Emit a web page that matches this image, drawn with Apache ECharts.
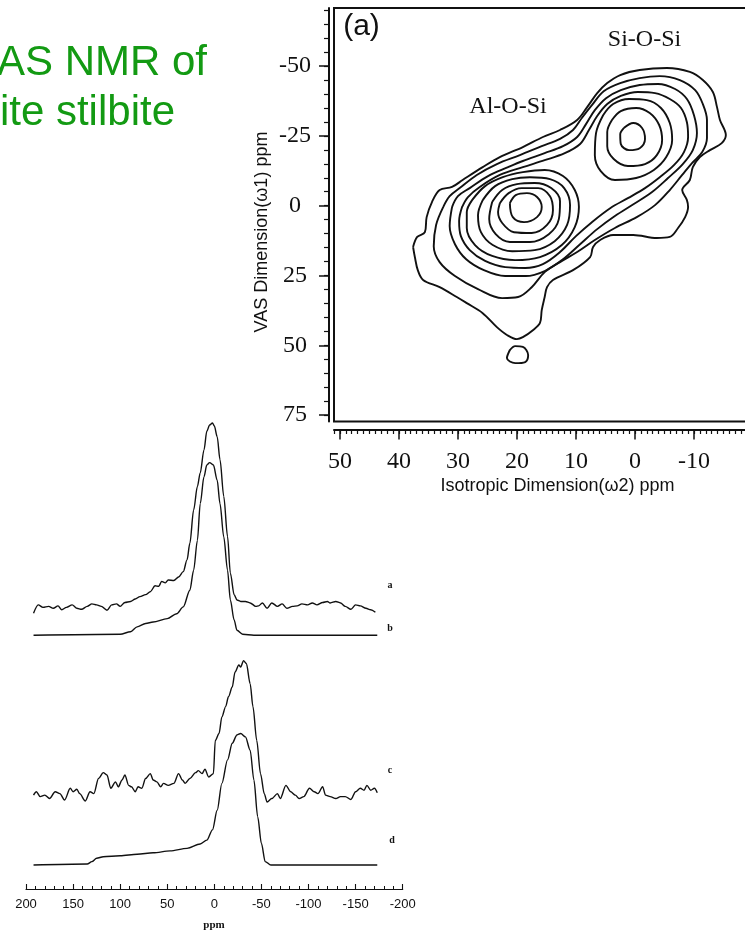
<!DOCTYPE html>
<html>
<head>
<meta charset="utf-8">
<script src="https://cdn.jsdelivr.net/npm/echarts@6/dist/echarts.min.js"></script>
<style>
  html, body { margin: 0; padding: 0; background: #ffffff; }
  #chart { width: 745px; height: 935px; }
</style>
</head>
<body>
<div id="chart"></div>
<script>
// ---------- 2D correlation map: contour lines (ppm, ppm) ----------
// x = isotropic dimension (omega2), y = VAS dimension (omega1)
const contourOuter = [[37.6,14.8],[36.9,11.2],[35.6,9.5],[35.3,4.1],[34.4,-1.3],[33.1,-5.6],[31.0,-6.7],[29.2,-9.2],[25.8,-13.8],[22.9,-17.4],[19.0,-21.0],[15.6,-24.6],[12.7,-27.1],[9.8,-30.7],[8.1,-35.3],[6.4,-40.3],[4.7,-43.9],[2.5,-46.8],[-0.8,-48.6],[-5.4,-49.3],[-9.3,-47.9],[-11.5,-45.0],[-13.2,-40.7],[-13.9,-35.3],[-14.4,-30.7],[-15.4,-25.3],[-14.7,-22.4],[-12.7,-19.9],[-11.0,-17.4],[-9.8,-13.8],[-9.3,-9.2],[-8.0,-5.6],[-8.8,-2.0],[-9.0,0.5],[-8.5,4.1],[-7.3,8.0],[-5.9,11.2],[-3.7,11.6],[0.3,10.5],[3.7,10.5],[5.9,12.3],[7.1,14.8],[7.6,18.4],[10.5,23.1],[13.9,26.6],[14.9,29.2],[15.3,32.7],[15.8,37.4],[16.1,42.0],[17.3,44.6],[19.0,47.1],[20.0,47.8],[21.7,46.3],[23.4,43.5],[25.8,38.5],[28.5,34.9],[30.2,32.7],[33.1,29.2],[35.9,26.6],[36.8,23.1],[37.3,18.4],[37.6,14.8]];
const contourIsland = [[21.2,51.7],[20.3,50.3],[19.0,50.6],[18.1,53.5],[18.6,56.0],[20.3,56.4],[21.7,54.6],[21.2,51.7]];
const contourLevel2 = [[32.5,0.5],[31.4,-3.4],[29.7,-6.3],[26.8,-11.0],[23.4,-14.9],[19.5,-18.1],[15.8,-21.3],[12.7,-23.9],[10.5,-27.1],[9.0,-31.4],[7.3,-36.0],[5.3,-41.0],[2.5,-43.9],[-0.8,-45.7],[-4.2,-46.4],[-7.6,-45.0],[-10.2,-41.4],[-11.5,-36.4],[-12.2,-30.7],[-12.2,-24.2],[-11.4,-19.2],[-9.7,-15.3],[-8.0,-11.0],[-5.9,-5.6],[-3.4,-0.2],[-0.3,4.1],[3.4,8.0],[6.8,12.3],[9.8,16.6],[12.7,20.2],[15.3,23.8],[17.5,29.2],[19.8,32.7],[22.5,33.1],[26.6,29.9],[30.5,25.2],[33.1,20.2],[34.1,14.5],[33.7,6.9],[32.5,0.5]];
const contourLevel3 = [[31.0,0.5],[30.0,-3.4],[28.0,-6.3],[24.9,-10.6],[21.5,-13.8],[19.0,-16.0],[15.3,-18.8],[12.2,-21.3],[9.8,-24.6],[8.3,-29.2],[6.8,-34.2],[4.9,-38.5],[2.4,-41.4],[-0.8,-43.2],[-3.9,-43.6],[-6.8,-41.8],[-8.8,-38.2],[-10.0,-32.4],[-10.5,-26.0],[-9.8,-19.9],[-8.1,-14.9],[-5.6,-9.9],[-2.9,-4.9],[0.2,-0.6],[3.4,3.7],[6.4,8.4],[9.3,13.8],[12.2,19.2],[15.3,23.4],[18.5,25.2],[22.0,25.2],[25.6,23.1],[28.6,19.2],[30.5,13.8],[31.4,7.3],[31.0,0.5]];
const contourLevel4 = [[29.3,0.5],[28.3,-3.1],[26.3,-6.7],[22.9,-11.0],[19.0,-13.8],[15.3,-16.3],[11.9,-18.8],[9.3,-22.1],[7.8,-27.1],[6.4,-32.1],[4.7,-36.4],[2.4,-39.3],[-0.5,-40.7],[-3.4,-40.3],[-5.9,-38.2],[-7.8,-35.0],[-8.8,-29.9],[-9.0,-24.6],[-8.3,-19.2],[-6.6,-14.5],[-4.2,-10.2],[-1.7,-6.3],[1.2,-2.7],[4.2,0.9],[7.3,5.9],[10.0,10.9],[12.7,16.6],[15.6,20.9],[18.6,22.3],[22.0,22.0],[25.4,19.8],[28.0,15.9],[29.5,10.9],[29.8,5.5],[29.3,0.5]];
// Al-O-Si peak, inner rings
const alRing5 = [[27.6,-2.0],[25.4,-7.0],[22.4,-10.2],[19.0,-12.0],[15.3,-12.8],[12.2,-10.6],[10.2,-5.6],[9.5,0.5],[10.2,7.7],[12.4,14.1],[16.1,18.4],[20.3,19.5],[24.2,18.0],[27.1,14.1],[28.5,8.0],[28.5,2.3],[27.6,-2.0]];
const alRing6 = [[25.8,-2.0],[23.7,-7.0],[20.8,-9.5],[17.8,-10.2],[14.4,-9.5],[12.0,-6.3],[11.0,-0.2],[11.5,6.9],[13.6,12.7],[17.0,15.9],[20.8,16.3],[24.1,14.1],[26.1,9.5],[26.6,3.4],[25.8,-2.0]];
const alRing7 = [[24.2,-1.3],[22.5,-5.6],[20.0,-7.7],[17.0,-8.1],[14.2,-6.3],[12.7,-1.6],[12.9,4.8],[14.6,10.2],[17.8,13.0],[21.2,13.0],[23.6,10.2],[24.7,4.8],[24.2,-1.3]];
const alRing8 = [[22.9,-0.9],[21.4,-4.5],[19.2,-6.3],[16.4,-6.3],[14.4,-3.4],[13.9,1.6],[14.9,6.9],[17.5,9.8],[20.5,9.5],[22.5,6.2],[23.2,2.3],[22.9,-0.9]];
const alRing9 = [[21.2,-0.9],[20.2,-3.8],[18.3,-4.5],[16.6,-3.1],[15.8,0.5],[16.6,4.1],[18.8,5.9],[20.7,4.1],[21.2,-0.9]];
// Si-O-Si peak, inner rings
const siRing5 = [[5.4,-32.4],[3.7,-36.4],[1.0,-38.2],[-2.0,-37.8],[-4.4,-35.0],[-5.9,-29.6],[-6.3,-23.5],[-5.3,-17.4],[-3.2,-12.8],[-0.2,-9.9],[3.4,-9.2],[5.8,-12.4],[6.8,-18.1],[6.6,-26.0],[5.4,-32.4]];
const siRing6 = [[3.9,-30.7],[2.4,-33.9],[-0.2,-35.0],[-2.5,-33.2],[-4.1,-28.9],[-4.6,-23.5],[-3.7,-18.1],[-1.7,-14.9],[1.2,-14.2],[3.6,-16.7],[4.7,-21.3],[4.7,-26.4],[3.9,-30.7]];
const siRing7 = [[1.9,-27.8],[0.3,-29.6],[-1.2,-27.8],[-1.7,-23.9],[-0.8,-20.6],[1.0,-19.9],[2.4,-22.1],[2.5,-25.6],[1.9,-27.8]];

const isoTickValues = [50, 40, 30, 20, 10, 0, -10, -20];
const isoLabelValues = [50, 40, 30, 20, 10, 0, -10];
const vasTickValues = [-50, -25, 0, 25, 50, 75];
const vasMinorValues = [-70,-65,-60,-55,-50,-45,-40,-35,-30,-25,-20,-15,-10,-5,0,5,10,15,20,25,30,35,40,45,50,55,60,65,70,75];

// ---------- 1D spectra (ppm vs. relative intensity) ----------
const ppmA = [192,187,182,176,171,166,162,157,151,146,141,135,130,125,120,114,109,104,100,95,89,84,79,73,68,63,59,56,52,49,43,38,33,29,26,22,18,15,11,8,5,2,0,-3,-6,-10,-14,-17,-21,-24,-28,-33,-38,-44,-47,-51,-56,-61,-67,-72,-77,-83,-88,-93,-99,-104,-109,-115,-120,-123,-129,-134,-139,-145,-150,-155,-161,-166,-171];
const intA = [-0.7,1.0,0.5,0.7,0.3,0.8,0,0.5,1.0,0.3,0.1,0.7,1.2,1.0,0.7,-0.1,1.0,1.2,0.7,1.5,1.7,2.2,2.7,3.1,3.7,4.9,4.8,5.8,5.5,6.1,6.0,6.7,7.8,10.2,13.6,20.4,25.2,28.0,32.7,36.5,37.8,38.2,37.6,35.4,30.7,23.2,15.0,7.5,3.1,2.0,1.7,1.7,1.4,0.7,0.8,1.4,0.3,1.4,0.7,1.2,0.3,0.7,0.8,1.2,1.0,1.4,1.0,1.5,1.7,1.4,1.7,1.4,0.7,0.1,1.0,0.8,0.3,0,-0.5];
const ppmB = [192,100,89,82,73,65,50,40,33,26,22,18,15,11,8,5,1,-3,-6,-10,-14,-17,-21,-24,-30,-42,-173];
const intB = [0,0.2,0.7,1.7,2.4,2.7,3.4,4.4,5.8,9.2,13.3,19.4,26.9,32.4,34.8,35.3,34.8,31.7,26.9,20.1,13.3,7.2,3.1,1.0,0.2,0,0];
const ppmC = [192,189,185,180,175,169,164,159,153,150,146,143,137,132,128,123,118,114,110,105,102,98,95,91,88,84,81,77,73,68,65,61,57,54,49,43,38,34,31,26,20,17,13,10,6,1,-1,-5,-8,-12,-15,-19,-22,-26,-28,-31,-34,-38,-41,-45,-49,-53,-56,-61,-67,-70,-76,-81,-86,-90,-95,-101,-106,-110,-115,-118,-123,-129,-134,-139,-145,-150,-155,-159,-162,-166,-170,-173];
const intC = [0,0.7,-0.3,0,-0.7,0.7,0.3,-1.0,1.4,0.7,1.2,0.3,-1.2,0.7,0.3,3.4,4.6,4.1,1.4,2.7,1.7,3.1,4.1,2.0,1.7,0.7,1.7,1.4,3.4,4.4,3.1,2.7,1.7,2.4,2.0,2.4,4.4,3.1,2.4,3.4,4.6,5.0,4.4,5.3,3.7,4.4,11.2,12.6,16.0,18.1,20.1,22.1,25.2,26.6,26.2,27.5,26.9,22.8,18.1,11.2,4.4,0.3,-1.4,-0.7,0.3,-0.7,2.0,0.7,0,-0.7,-0.3,1.4,0.7,0.3,1.7,0,-0.3,-0.7,-0.3,-0.3,-0.9,0.7,1.4,1.0,2.0,1.0,1.4,0.5];
const ppmD = [192,135,130,125,118,100,82,65,47,29,15,8,2,-3,-8,-14,-19,-24,-28,-33,-38,-42,-46,-50,-54,-60,-173];
const intD = [0,0.2,0.7,1.4,1.7,1.9,2.2,2.5,2.9,3.4,4.3,5.1,7.2,11.2,16.7,21.5,24.9,26.6,26.9,26.2,23.5,17.4,9.9,4.4,0.7,0,0];
// vertical stacking offsets of the four traces
const traceOffsets = { a: 57.1, b: 51.9, c: 19.2, d: 4.9 };
const ppmTickValues = [200, 150, 100, 50, 0, -50, -100, -150, -200];

const INK = '#111111';
const SERIF = '"Liberation Serif","Times New Roman",serif';
const SANS = '"Liberation Sans",Arial,Helvetica,sans-serif';

function contourSeries(points) {
  return {
    type: 'line', xAxisIndex: 0, yAxisIndex: 0, data: points,
    symbol: 'none', smooth: 0.35, silent: true, animation: false,
    lineStyle: { color: INK, width: 1.9 }, z: 3
  };
}
function traceSeries(ppm, inten, offset) {
  return {
    type: 'line', xAxisIndex: 2, yAxisIndex: 2,
    data: ppm.map((p, i) => [p, offset + inten[i]]),
    symbol: 'none', smooth: 0.3, smoothMonotone: 'x', silent: true, animation: false,
    lineStyle: { color: INK, width: 1.4 }
  };
}

const isoMinorValues = [];
for (let v = 51; v >= -20; v -= 1) isoMinorValues.push(v);
const ppmMinorValues = [];
for (let v = 200; v >= -200; v -= 10) ppmMinorValues.push(v);

const chart = echarts.init(document.getElementById('chart'), null, { renderer: 'canvas' });

chart.setOption({
  backgroundColor: '#ffffff',
  animation: false,
  grid: [
    { left: 334, top: 8, width: 419, height: 413.5, outerBoundsMode: 'none', containLabel: false,
      show: true, borderColor: INK, borderWidth: 2, backgroundColor: 'transparent' },
    { left: 26, top: 400, width: 376.7, height: 489, outerBoundsMode: 'none', containLabel: false }
  ],
  xAxis: [
    { type: 'value', gridIndex: 0, min: -20, max: 51, inverse: true, position: 'bottom', offset: 8,
      axisLine: { show: true, onZero: false, lineStyle: { color: INK, width: 2 } },
      axisTick: { show: true, inside: false, length: 10, customValues: isoTickValues, lineStyle: { color: INK, width: 1.5 } },
      axisLabel: { customValues: isoLabelValues, margin: 20, color: INK, fontFamily: SERIF, fontSize: 24 },
      splitLine: { show: false } },
    { type: 'value', gridIndex: 0, min: -20, max: 51, inverse: true, position: 'bottom', offset: 8,
      axisLine: { show: false, onZero: false },
      axisTick: { show: true, inside: false, length: 4.5, customValues: isoMinorValues, lineStyle: { color: INK, width: 1.2 } },
      axisLabel: { show: false }, splitLine: { show: false } },
    { type: 'value', gridIndex: 1, min: -200, max: 200, inverse: true, position: 'bottom',
      axisLine: { show: true, onZero: false, lineStyle: { color: INK, width: 1.2 } },
      axisTick: { show: true, inside: true, length: 5, customValues: ppmTickValues, lineStyle: { color: INK, width: 1.1 } },
      axisLabel: { customValues: ppmTickValues, margin: 9, color: INK, fontFamily: SANS, fontSize: 13 },
      splitLine: { show: false } },
    { type: 'value', gridIndex: 1, min: -200, max: 200, inverse: true, position: 'bottom',
      axisLine: { show: false, onZero: false },
      axisTick: { show: true, inside: true, length: 3, customValues: ppmMinorValues, lineStyle: { color: INK, width: 1 } },
      axisLabel: { show: false }, splitLine: { show: false } }
  ],
  yAxis: [
    { type: 'value', gridIndex: 0, min: -70.8, max: 77.3, inverse: true, position: 'left', offset: 5,
      axisLine: { show: true, onZero: false, lineStyle: { color: INK, width: 2 } },
      axisTick: { show: true, inside: false, length: 10, customValues: vasTickValues, lineStyle: { color: INK, width: 1.5 } },
      axisLabel: { customValues: vasTickValues, margin: 34, align: 'center', color: INK, fontFamily: SERIF, fontSize: 24 },
      splitLine: { show: false } },
    { type: 'value', gridIndex: 0, min: -70.8, max: 77.3, inverse: true, position: 'left', offset: 5,
      axisLine: { show: false, onZero: false },
      axisTick: { show: true, inside: false, length: 5, customValues: vasMinorValues, lineStyle: { color: INK, width: 1.2 } },
      axisLabel: { show: false }, splitLine: { show: false } },
    { type: 'value', gridIndex: 1, min: 0, max: 100, show: false }
  ],
  series: [
    contourSeries(contourOuter), contourSeries(contourIsland),
    contourSeries(contourLevel2), contourSeries(contourLevel3), contourSeries(contourLevel4),
    contourSeries(alRing5), contourSeries(alRing6), contourSeries(alRing7), contourSeries(alRing8), contourSeries(alRing9),
    contourSeries(siRing5), contourSeries(siRing6), contourSeries(siRing7),
    traceSeries(ppmA, intA, traceOffsets.a),
    traceSeries(ppmB, intB, traceOffsets.b),
    traceSeries(ppmC, intC, traceOffsets.c),
    traceSeries(ppmD, intD, traceOffsets.d)
  ],
  graphic: [
    { type: 'text', x: 207, y: 63.7, style: { text: 'AS NMR of', fill: '#139a13', font: '42px ' + SANS, align: 'right', verticalAlign: 'middle' } },
    { type: 'text', x: 175, y: 113.7, style: { text: 'ite stilbite', fill: '#139a13', font: '42px ' + SANS, align: 'right', verticalAlign: 'middle' } },
    { type: 'text', x: 361.5, y: 26.3, style: { text: '(a)', fill: INK, font: '30px ' + SANS, align: 'center', verticalAlign: 'middle' } },
    { type: 'text', x: 644.5, y: 40, style: { text: 'Si-O-Si', fill: INK, font: '24px ' + SERIF, align: 'center', verticalAlign: 'middle' } },
    { type: 'text', x: 508, y: 107, style: { text: 'Al-O-Si', fill: INK, font: '24px ' + SERIF, align: 'center', verticalAlign: 'middle' } },
    { type: 'text', x: 557.5, y: 486, style: { text: 'Isotropic Dimension(\u03c92) ppm', fill: INK, font: '18px ' + SANS, align: 'center', verticalAlign: 'middle' } },
    { type: 'text', x: 262, y: 232, rotation: Math.PI / 2, style: { text: 'VAS Dimension(\u03c91) ppm', fill: INK, font: '18px ' + SANS, align: 'center', verticalAlign: 'middle' } },
    { type: 'text', x: 390, y: 585, style: { text: 'a', fill: INK, font: 'bold 10px ' + SERIF, align: 'center', verticalAlign: 'middle' } },
    { type: 'text', x: 390, y: 628, style: { text: 'b', fill: INK, font: 'bold 10px ' + SERIF, align: 'center', verticalAlign: 'middle' } },
    { type: 'text', x: 390, y: 770, style: { text: 'c', fill: INK, font: 'bold 10px ' + SERIF, align: 'center', verticalAlign: 'middle' } },
    { type: 'text', x: 392, y: 840, style: { text: 'd', fill: INK, font: 'bold 10px ' + SERIF, align: 'center', verticalAlign: 'middle' } },
    { type: 'text', x: 214, y: 925, style: { text: 'ppm', fill: INK, font: 'bold 11px ' + SERIF, align: 'center', verticalAlign: 'middle' } }
  ]
});
</script>
</body>
</html>
